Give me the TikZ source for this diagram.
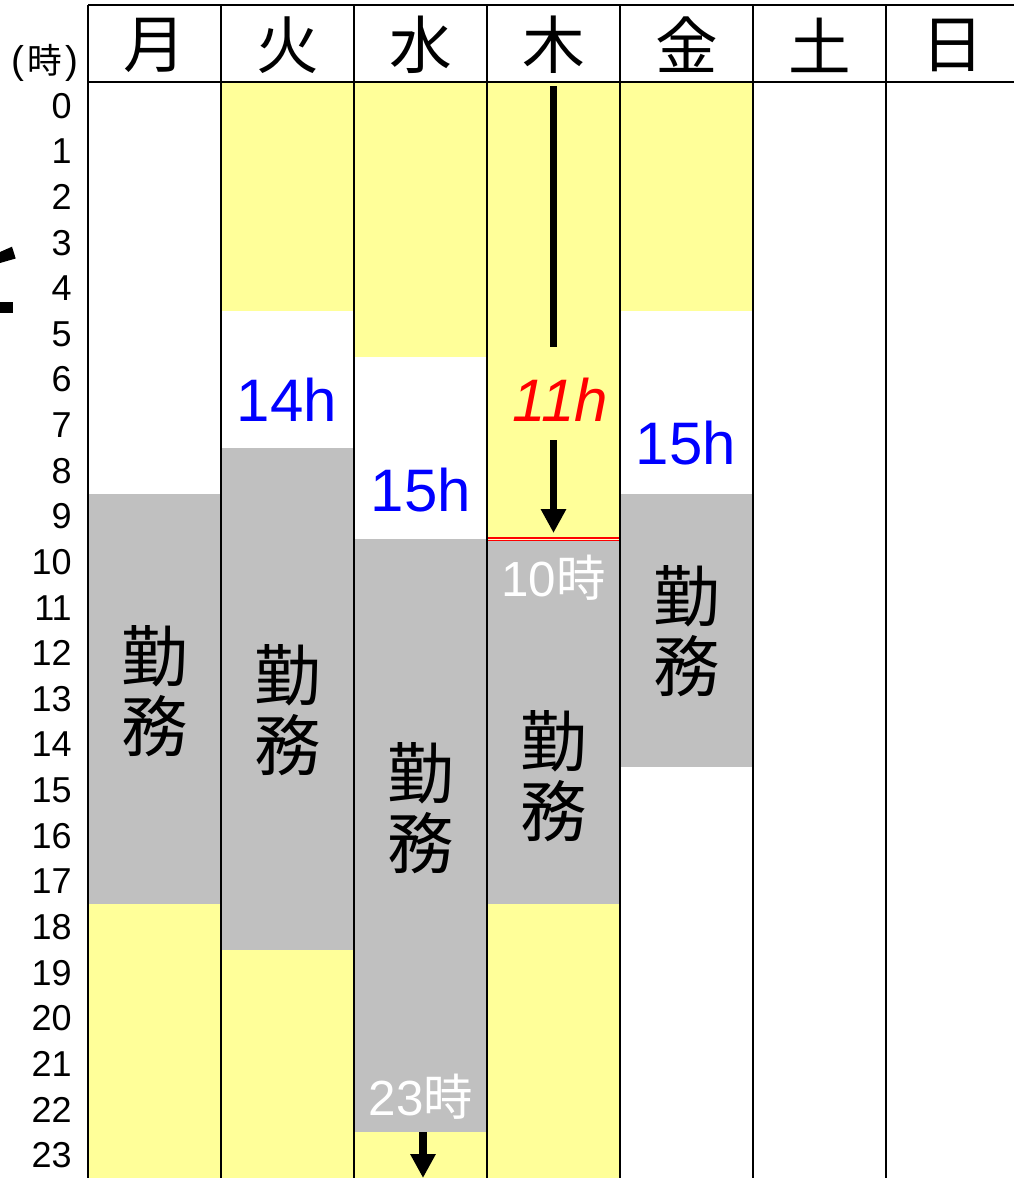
\documentclass[tikz,border=0pt]{standalone}
\usepackage{fontspec}
\setmainfont{Liberation Sans}
\newfontfamily\jp{Noto Sans CJK JP}
\usetikzlibrary{arrows.meta}
\definecolor{yel}{HTML}{FFFF99}
\definecolor{gry}{HTML}{C0C0C0}
\begin{document}
\begin{tikzpicture}[x=0.75pt,y=-0.75pt,
  grid/.style={line width=2.2pt,black},
  yelbox/.style={fill=yel,draw=none},
  grybox/.style={fill=gry,draw=none},
  hourlbl/.style={anchor=east,font=\fontsize{27}{27}\selectfont,inner sep=0pt},
  daylbl/.style={font=\jp\fontsize{47}{47}\selectfont,inner sep=0pt},
  work/.style={font=\jp\fontsize{50}{52.5}\selectfont,align=center,inner sep=0pt},
  hours/.style={font=\fontsize{45}{45}\selectfont,text=blue,inner sep=0pt},
  timelbl/.style={font=\fontsize{37}{37}\selectfont,text=white,inner sep=0pt},
  bigarrow/.style={line width=5.5pt,-{Triangle[width=18pt,length=18pt]}},
  bigline/.style={line width=5.5pt}]
\useasboundingbox (0,0) rectangle (1014,1178);
\fill[white] (0,0) rectangle (1014,1178);
% Monday
\fill[grybox] (88,493.6) rectangle (221,904.25);
\fill[yelbox] (88,904.25) rectangle (221,1178);
% Tuesday
\fill[yelbox] (221,83) rectangle (354,311.1);
\fill[grybox] (221,448) rectangle (354,949.9);
\fill[yelbox] (221,949.9) rectangle (354,1178);
% Wednesday
\fill[yelbox] (354,83) rectangle (487,356.75);
\fill[grybox] (354,539.25) rectangle (487,1132.4);
\fill[yelbox] (354,1132.4) rectangle (487,1178);
% Thursday
\fill[yelbox] (487,83) rectangle (620,539.25);
\fill[grybox] (487,539.25) rectangle (620,904.25);
\fill[yelbox] (487,904.25) rectangle (620,1178);
% Friday
\fill[yelbox] (620,83) rectangle (753,311.1);
\fill[grybox] (620,493.6) rectangle (753,767.4);
% red double line at Thursday 10:00
\draw[red,line width=1.1pt,double=yel!50!white,double distance=1.1pt] (487,539.25) -- (621,539.25);
% grid
\draw[grid] (88,5) -- (1014,5);
\draw[grid] (88,82) -- (1014,82);
\foreach \x in {88,221,354,487,620,753,886} \draw[grid] (\x,5) -- (\x,1178);
% day headers
\node[daylbl] (mon) at (154.5,45) {月};
\node[daylbl] (tue) at (287.5,45) {火};
\node[daylbl] (wed) at (420.5,45) {水};
\node[daylbl] (thu) at (553.5,45) {木};
\node[daylbl] (fri) at (686.5,45) {金};
\node[daylbl] (sat) at (819.5,45) {土};
\node[daylbl] (sun) at (952.5,45) {日};
\node[font=\fontsize{26}{26}\selectfont,inner sep=0pt] (unit) at (45,63) {{\fontsize{29}{29}\selectfont(}\hspace{2.5pt}{\jp 時}\hspace{2.5pt}{\fontsize{29}{29}\selectfont)}};
% hour labels
\foreach \h in {0,...,23} \node[hourlbl] (h\h) at (72,{83+45.625*(\h+0.5)}) {\h};
% work blocks
\node[work] (wmon) at (154.5,691) {勤\\務};
\node[work] (wtue) at (287.5,710) {勤\\務};
\node[work] (wwed) at (420.5,808) {勤\\務};
\node[work] (wthu) at (553.5,776) {勤\\務};
\node[work] (wfri) at (686.5,631) {勤\\務};
% hours
\node[hours] (htue) at (287,400) {14h};
\node[hours] (hwed) at (421,490) {15h};
\node[hours] (hfri) at (686,443) {15h};
\node[hours,text=red,font=\itshape\fontsize{45}{45}\selectfont] (hthu) at (560,400) {11h};
% time labels
\node[timelbl] (t10) at (553.5,578) {10{\jp 時}};
\node[timelbl] (t23) at (421,1097) {23{\jp 時}};
% arrows
\coordinate (a1s) at (553.5,86);
\coordinate (a1e) at (553.5,347);
\coordinate (a2s) at (553.5,440);
\coordinate (a2e) at (553.5,533);
\coordinate (a3s) at (423,1132.4);
\coordinate (a3e) at (423,1178);
\draw[bigline] (a1s) -- (a1e);
\draw[bigarrow] (a2s) -- (a2e);
\draw[bigarrow] (a3s) -- (a3e);
% clipped marks at left edge
\fill[black] (0,252) -- (12,246.7) -- (15.7,258.5) -- (0,263) -- cycle;
\fill[black] (0,302) rectangle (13,313);
\end{tikzpicture}
\end{document}
